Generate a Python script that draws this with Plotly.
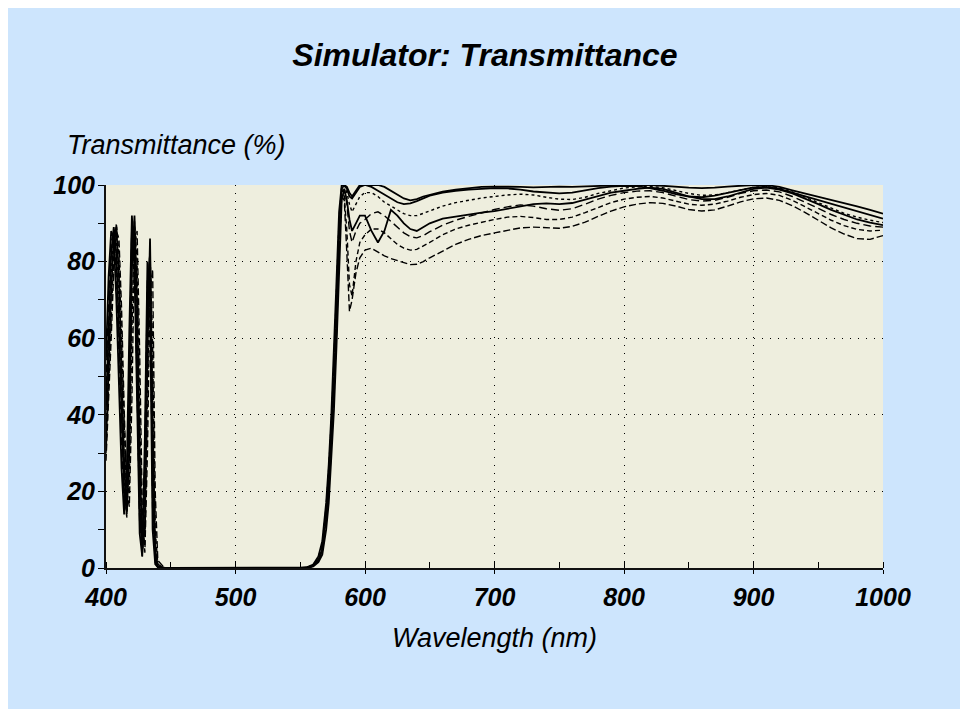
import plotly.graph_objects as go

# ---------------- data ----------------
wavelength = [
    400, 402, 404, 406, 408, 410, 412, 414, 416, 418, 420, 422, 424, 426, 428, 430, 432, 434, 436, 438, 440,
    445, 450, 500, 550, 555, 560, 564, 567, 570, 572, 574, 576, 578, 580, 582, 584, 586, 588, 590, 593, 596,
    600, 605, 610, 615, 620, 625, 630, 635, 640, 645, 650,
    660, 670, 680, 690, 700, 710, 720, 730, 740, 750, 760, 770, 780, 790, 800,
    810, 820, 830, 840, 850, 860, 870, 880, 890, 900, 910, 920, 930, 940, 950, 960, 970, 980, 990, 1000,
]

solid_1 = [
    32, 52, 72, 86, 89, 76, 52, 28, 14, 30, 78, 92, 70, 30, 5, 10, 55, 86, 40, 5, 0.5,
    0.1, 0, 0, 0, 0.1, 0.6, 2, 5, 13, 22, 34, 48, 66, 88, 99, 100, 99.5, 98, 97, 98.5, 100,
    100, 100, 100, 99.5, 98.5, 97.5, 96.5, 96, 96.3, 97, 97.5,
    98.3, 98.8, 99.2, 99.5, 99.6, 99.6, 99.5, 99.4, 99.5, 99.6, 99.5, 99.6, 99.8, 100, 100,
    100, 100, 99.8, 99.5, 99.3, 99.2, 99.3, 99.6, 99.8, 100, 100, 99.5, 98.6, 97.8, 97, 96.2, 95.3, 94.4, 93.5, 92.5,
]
solid_2 = [
    42, 64, 82, 89, 82, 62, 38, 20, 15, 45, 88, 87, 52, 16, 4, 22, 72, 82, 22, 2, 0.3,
    0, 0, 0, 0, 0.2, 0.9, 3, 7, 17, 27, 40, 56, 75, 93, 100, 100, 99, 97, 96.5, 98, 99.5,
    100, 99.5, 98.5, 97.5, 96.5, 95.5, 95, 95.2, 95.8, 96.5, 97.2,
    98, 98.5, 98.8, 99, 99.2, 99.1, 98.8, 98.3, 98, 97.8, 98, 98.6, 99.2, 99.6, 99.8,
    99.7, 99.2, 98.5, 97.6, 97, 96.8, 97.2, 98, 98.8, 99.4, 99.5, 99, 98, 97, 96, 95, 94.2, 93.2, 92.2, 91.2,
]
solid_3 = [
    55, 76, 88, 86, 70, 46, 26, 14, 24, 62, 92, 78, 38, 9, 3, 34, 80, 70, 10, 1, 0.2,
    0, 0, 0, 0, 0, 0.4, 1.5, 3.5, 10, 17, 28, 41, 58, 80, 96, 99, 96, 91, 88, 90, 92,
    92, 88, 85, 88, 93.5, 92, 90, 88.5, 88, 89, 90,
    91.2, 91.8, 92.3, 92.8, 93.2, 93.8, 94.5, 95, 95.2, 95, 95.3, 96.2, 97.2, 98, 98.5,
    99, 99.3, 99, 98, 97, 96.3, 96.3, 97, 98, 99, 99.3, 98.8, 97.8, 96.5, 95, 93.5, 92.2, 91, 90.2, 89.5,
]
dashed_1 = [
    28, 42, 60, 78, 88, 86, 68, 42, 20, 16, 44, 84, 88, 56, 16, 4, 30, 72, 78, 20, 2,
    0.1, 0, 0, 0, 0, 0.5, 1.8, 4.5, 12, 20, 32, 46, 63, 84, 97, 96, 82, 67, 70, 77, 81,
    83, 83.5, 82.5, 81.5, 80.8, 80.2, 79.6, 79.2, 79.3, 80, 81,
    82.8, 84.5, 85.8, 86.8, 87.5, 88.2, 88.8, 89, 88.8, 88.7, 89.2, 90.3, 91.8, 93.2, 94.3,
    95, 95.4, 95.2, 94.5, 93.6, 93.2, 93.5, 94.5, 95.6, 96.4, 96.6, 96, 94.6, 92.8, 90.8, 88.8, 87.2, 86, 85.8, 86.8,
]
dashed_2 = [
    30, 47, 66, 82, 90, 82, 60, 35, 17, 22, 62, 90, 80, 42, 9, 6, 40, 82, 58, 10, 1,
    0, 0, 0, 0, 0.1, 0.7, 2.4, 6, 15, 25, 37, 52, 70, 90, 99, 97, 88, 74, 71, 80, 85,
    87, 88.5, 88.5, 87.5, 86, 84.5, 83.5, 83, 83.2, 84, 85,
    87, 88.5, 89.5, 90.3, 91, 91.6, 91.8, 91.5, 91, 91, 91.6, 92.8, 94.2, 95.4, 96.3,
    96.8, 97, 96.6, 95.8, 95, 94.7, 95, 95.8, 96.8, 97.5, 97.8, 97.3, 96, 94.3, 92.5, 90.8, 89.4, 88.4, 88, 88.2,
]
dashed_3 = [
    48, 70, 85, 88, 76, 54, 32, 17, 18, 52, 90, 83, 45, 12, 3, 28, 76, 78, 16, 1.5, 0.2,
    0, 0, 0, 0, 0, 0.5, 1.7, 4.2, 11.5, 19, 30, 44, 61, 83, 97, 99, 95, 88, 85, 88, 90,
    91, 92.5, 93, 92, 90.5, 89, 87.5, 86.5, 86.2, 86.8, 87.8,
    89.5, 90.8, 91.8, 92.8, 93.6, 94.3, 94.8, 94.5, 93.8, 93.4, 93.8, 95, 96.3, 97.3, 98,
    98.4, 98.5, 98, 97, 96.2, 95.8, 96, 96.8, 97.8, 98.5, 98.7, 98.2, 97, 95.5, 93.8, 92.3, 91, 90, 89.3, 89,
]
dashed_4 = [
    35, 56, 76, 88, 87, 70, 46, 24, 13, 34, 82, 91, 64, 24, 4, 14, 62, 85, 32, 3, 0.4,
    0, 0, 0, 0, 0.1, 0.8, 2.7, 6.5, 16, 26, 38, 54, 72, 91, 99.5, 100, 98, 95, 93, 95, 97,
    98, 98, 97, 95.5, 94.5, 93.5, 92.5, 92, 92, 92.6, 93.3,
    94.5, 95.4, 96, 96.6, 97, 97.4, 97.6, 97.4, 96.8, 96.3, 96.2, 96.8, 97.8, 98.6, 99.2,
    99.5, 99.6, 99.3, 98.6, 97.8, 97.3, 97.4, 98, 98.8, 99.4, 99.6, 99.2, 98.2, 96.8, 95.2, 93.8, 92.6, 91.6, 90.8, 90.2,
]

series_names = ["Solid 1", "Solid 2", "Solid 3", "Dashed 1", "Dashed 2", "Dashed 3", "Dashed 4"]
series_values = [solid_1, solid_2, solid_3, dashed_1, dashed_2, dashed_3, dashed_4]
series_dash = ["solid", "solid", "solid", "7px,3px", "5px,3px", "8px,4px", "3px,3px"]
series_width = [1.8, 1.8, 1.8, 1.4, 1.4, 1.4, 1.4]

x_ticks = [400, 500, 600, 700, 800, 900, 1000]
y_ticks = [0, 20, 40, 60, 80, 100]

for v in series_values:
    assert len(v) == len(wavelength), (len(v), len(wavelength))

# ---------------- figure ----------------
# page has an 8px body margin (white frame), so the figure is 8px smaller
OFF = 8
W, H = 968 - OFF, 709 - OFF
L, R, T, B = 106 - OFF, 85, 185 - OFF, 141
pw, ph = W - L - R, H - T - B

def px_x(p):  # page pixel -> paper x
    return (p - OFF - L) / pw

def px_y(p):  # page pixel -> paper y
    return (H - B - (p - OFF)) / ph

BLUE = "#CDE5FD"
BEIGE = "#EEEEDE"
FONT = "Liberation Sans, Arial, sans-serif"

fig = go.Figure()
for name, vals, dash, w in zip(series_names, series_values, series_dash, series_width):
    fig.add_trace(go.Scatter(
        x=wavelength, y=vals, mode="lines", name=name,
        line=dict(color="black", width=w, dash=dash),
        hoverinfo="skip",
    ))

tickfont = dict(family=FONT, size=25, color="black", weight="bold", style="italic")

fig.update_layout(
    width=W, height=H, autosize=False,
    margin=dict(l=L, r=R, t=T, b=B, pad=0),
    paper_bgcolor=BLUE,
    plot_bgcolor=BEIGE,
    showlegend=False,
    title=dict(
        text="Simulator: Transmittance",
        font=dict(family=FONT, size=32, color="black", weight="bold", style="italic"),
        x=(485 - OFF) / W, xanchor="center", xref="container",
        y=1 - (55 - OFF) / H, yanchor="middle", yref="container",
    ),
    xaxis=dict(
        range=[400, 1000], tickmode="array", tickvals=x_ticks,
        showgrid=True, gridcolor="black", gridwidth=1, griddash="1px,7px",
        showline=True, linecolor="#111111", linewidth=2,
        ticks="outside", ticklen=4, tickwidth=1, tickcolor="black",
        minor=dict(dtick=50, tick0=400, ticks="inside", ticklen=6, tickcolor="black", showgrid=False),
        tickfont=tickfont, ticklabelstandoff=2, zeroline=False, fixedrange=True,
    ),
    yaxis=dict(
        range=[0, 100], tickmode="array", tickvals=y_ticks,
        showgrid=True, gridcolor="black", gridwidth=1, griddash="1px,7px",
        showline=True, linecolor="#111111", linewidth=2,
        ticks="outside", ticklen=4, tickwidth=1, tickcolor="black",
        minor=dict(dtick=10, tick0=0, ticks="outside", ticklen=6, tickcolor="black", showgrid=False),
        tickfont=tickfont, zeroline=False, fixedrange=True,
    ),
    annotations=[
        dict(text="Transmittance (%)", xref="paper", yref="paper",
             x=px_x(65), y=px_y(145), xanchor="left", yanchor="middle", showarrow=False,
             font=dict(family=FONT, size=27, color="black", style="italic")),
        dict(text="Wavelength (nm)", xref="paper", yref="paper",
             x=px_x(495), y=px_y(638), xanchor="center", yanchor="middle", showarrow=False,
             font=dict(family=FONT, size=27, color="black", style="italic")),
    ],
)

fig.write_html("out.html")
